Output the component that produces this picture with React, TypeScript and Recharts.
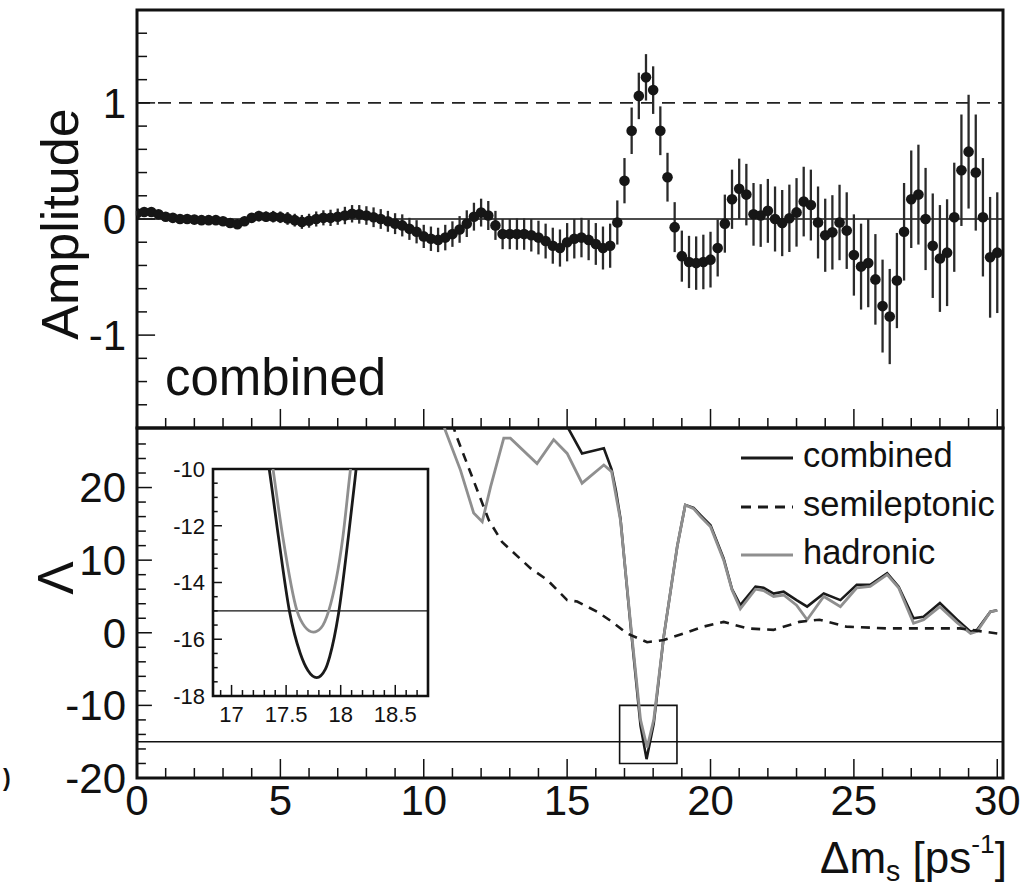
import React from 'react';
import {
  ComposedChart,
  Scatter,
  Line,
  XAxis,
  YAxis,
  ErrorBar,
  ReferenceLine,
  ReferenceArea,
  Legend,
} from 'recharts';

const FONT = '"Liberation Sans", Arial, Helvetica, sans-serif';
const INK = '#111';

// ---------- Top panel: amplitude scan ----------
const ampX = [0, 0.25, 0.5, 0.75, 1, 1.25, 1.5, 1.75, 2, 2.25, 2.5, 2.75, 3, 3.25, 3.5, 3.75, 4, 4.25, 4.5, 4.75, 5, 5.25, 5.5, 5.75, 6, 6.25, 6.5, 6.75, 7, 7.25, 7.5, 7.75, 8, 8.25, 8.5, 8.75, 9, 9.25, 9.5, 9.75, 10, 10.25, 10.5, 10.75, 11, 11.25, 11.5, 11.75, 12, 12.25, 12.5, 12.75, 13, 13.25, 13.5, 13.75, 14, 14.25, 14.5, 14.75, 15, 15.25, 15.5, 15.75, 16, 16.25, 16.5, 16.75, 17, 17.25, 17.5, 17.75, 18, 18.25, 18.5, 18.75, 19, 19.25, 19.5, 19.75, 20, 20.25, 20.5, 20.75, 21, 21.25, 21.5, 21.75, 22, 22.25, 22.5, 22.75, 23, 23.25, 23.5, 23.75, 24, 24.25, 24.5, 24.75, 25, 25.25, 25.5, 25.75, 26, 26.25, 26.5, 26.75, 27, 27.25, 27.5, 27.75, 28, 28.25, 28.5, 28.75, 29, 29.25, 29.5, 29.75, 30];

const ampVal = [
  0.05, 0.06, 0.06, 0.04, 0.02, 0.01, 0.0, 0.0, -0.005, -0.01, -0.01, -0.01, -0.02, -0.035, -0.045, -0.02, 0.01, 0.025, 0.02, 0.02,
  0.015, 0.005, -0.01, -0.025, -0.015, 0.0, 0.01, 0.01, 0.02, 0.03, 0.045, 0.04, 0.03, 0.015, 0.0, -0.02, -0.04, -0.055, -0.085, -0.11,
  -0.15, -0.17, -0.18, -0.16, -0.13, -0.09, -0.04, 0.02, 0.055, 0.03, -0.055, -0.13, -0.13, -0.13, -0.13, -0.14, -0.16, -0.19, -0.23, -0.25,
  -0.2, -0.17, -0.16, -0.18, -0.215, -0.25, -0.23, -0.03, 0.33, 0.76, 1.06, 1.22, 1.11, 0.76, 0.36, -0.07, -0.32, -0.37, -0.38, -0.37,
  -0.35, -0.25, -0.04, 0.17, 0.26, 0.21, 0.04, 0.03, 0.07, 0.0, -0.035, 0.006, 0.057, 0.15, 0.12, -0.03, -0.14, -0.115, -0.03, -0.1,
  -0.31, -0.41, -0.38, -0.52, -0.75, -0.84, -0.53, -0.11, 0.17, 0.21, 0.0, -0.23, -0.34, -0.29, 0.015, 0.42, 0.58, 0.4, 0.015, -0.33, -0.29,
];

const ampErr = [
  0.02, 0.02, 0.02, 0.02, 0.02, 0.025, 0.025, 0.025, 0.03, 0.03, 0.03, 0.03, 0.035, 0.035, 0.035, 0.04, 0.04, 0.045, 0.045, 0.05,
  0.05, 0.055, 0.055, 0.06, 0.06, 0.065, 0.065, 0.07, 0.07, 0.075, 0.075, 0.08, 0.08, 0.085, 0.085, 0.09, 0.09, 0.095, 0.095, 0.1,
  0.1, 0.105, 0.105, 0.11, 0.11, 0.115, 0.115, 0.12, 0.12, 0.125, 0.125, 0.13, 0.13, 0.135, 0.135, 0.14, 0.145, 0.15, 0.155, 0.16,
  0.165, 0.17, 0.17, 0.175, 0.18, 0.185, 0.19, 0.19, 0.195, 0.2, 0.2, 0.2, 0.205, 0.21, 0.21, 0.215, 0.22, 0.225, 0.23, 0.235,
  0.24, 0.245, 0.25, 0.255, 0.26, 0.265, 0.27, 0.27, 0.275, 0.28, 0.285, 0.29, 0.295, 0.3, 0.305, 0.31, 0.315, 0.32, 0.325, 0.33,
  0.35, 0.37, 0.38, 0.39, 0.4, 0.41, 0.41, 0.42, 0.42, 0.43, 0.44, 0.45, 0.46, 0.46, 0.47, 0.48, 0.49, 0.5, 0.51, 0.52, 0.52,
];

// ---------- Bottom panel: likelihood ratio ----------
const combinedX = [14.8, 15.06, 15.52, 16.28, 16.55, 16.7, 16.86, 17.2, 17.56, 17.77, 18.02, 18.37, 18.84, 19.12, 19.41, 19.65, 20.0, 20.46, 20.75, 21.04, 21.57, 21.85, 22.2, 22.55, 23.0, 23.37, 23.95, 24.53, 25.1, 25.57, 26.16, 26.56, 27.08, 27.43, 28.0, 28.6, 29.07, 29.3, 29.76, 30.0];
const combinedL = [31, 28.0, 24.7, 25.4, 22.5, 19.6, 15.7, 1.5, -12.8, -17.4, -12.5, -0.5, 11.9, 17.6, 17.2, 16.2, 14.8, 10.2, 6.0, 3.8, 6.35, 6.2, 5.4, 5.65, 4.5, 3.6, 5.4, 4.5, 6.6, 6.6, 8.2, 6.35, 2.0, 2.2, 4.1, 1.8, 0.15, 0.4, 2.9, 3.1];

const hadronicX = [10.5, 10.75, 11.28, 11.74, 12.04, 12.33, 12.79, 13.02, 13.95, 14.53, 15.0, 15.52, 16.28, 16.55, 16.86, 17.2, 17.56, 17.79, 18.02, 18.37, 18.84, 19.12, 19.41, 19.65, 20.0, 20.46, 20.75, 21.04, 21.57, 21.85, 22.2, 22.55, 23.0, 23.37, 23.95, 24.53, 25.1, 25.57, 26.16, 26.56, 27.08, 27.43, 28.0, 28.6, 29.07, 29.3, 29.76, 30.0];
const hadronicL = [31, 27.9, 22.4, 16.5, 15.3, 20.1, 26.8, 26.8, 23.3, 26.6, 24.7, 20.6, 23.1, 22.2, 15.5, 1.8, -12, -15.8, -12, -0.5, 11.9, 17.6, 17.1, 16.0, 14.6, 10.0, 5.9, 3.3, 6.0, 5.8, 5.0, 5.2, 3.8, 1.8, 5.0, 3.6, 6.2, 6.4, 8.0, 6.2, 1.3, 1.8, 3.6, 1.4, -0.1, 0.2, 2.9, 3.1];

const semiX = [10.85, 11.1, 11.86, 12.27, 12.73, 13.72, 14.3, 15.0, 15.35, 16.05, 16.57, 17.09, 17.79, 18.37, 19.07, 19.76, 20.46, 21.28, 22.2, 23.1, 23.8, 24.73, 26.15, 27.55, 28.7, 30.0];
const semiL = [31, 27.5, 19.7, 15.5, 12.5, 8.9, 7.3, 4.5, 4.3, 2.9, 1.5, -0.1, -1.3, -1.0, -0.1, 0.85, 1.5, 0.6, 0.4, 1.5, 1.8, 0.85, 0.6, 0.6, 0.6, -0.1];

// ---------- Inset: zoom of the minimum ----------
const insetCombX = [17.3, 17.345, 17.43, 17.53, 17.63, 17.7, 17.78, 17.86, 17.9, 17.98, 18.07, 18.13, 18.17];
const insetCombL = [-8.9, -10, -12.4, -15, -16.5, -17.1, -17.35, -17.05, -16.6, -15.1, -12.4, -10.4, -9.0];
const insetHadX = [17.33, 17.38, 17.47, 17.6, 17.67, 17.75, 17.82, 17.89, 18.02, 18.09, 18.13];
const insetHadL = [-8.6, -10, -12.4, -15, -15.55, -15.75, -15.6, -15.0, -12.4, -10, -8.8];

// ---------- Tick values ----------
const xMajorTicks = [0, 5, 10, 15, 20, 25, 30];
const xMinorTicks = [1, 2, 3, 4, 6, 7, 8, 9, 11, 12, 13, 14, 16, 17, 18, 19, 21, 22, 23, 24, 26, 27, 28, 29];
const ampMajorTicks = [-1, 0, 1];
const ampMinorTicks = [-1.6, -1.4, -1.2, -0.8, -0.6, -0.4, -0.2, 0.2, 0.4, 0.6, 0.8, 1.2, 1.4, 1.6];
const lamMajorTicks = [-20, -10, 0, 10, 20];
const lamMinorTicks = [-18, -16, -14, -12, -8, -6, -4, -2, 2, 4, 6, 8, 12, 14, 16, 18, 22, 24, 26];
const insetXMajor = [17, 17.5, 18, 18.5];
const insetXMinor = [16.9, 17.1, 17.2, 17.3, 17.4, 17.6, 17.7, 17.8, 17.9, 18.1, 18.2, 18.3, 18.4, 18.6, 18.7];
const insetYMajor = [-18, -16, -14, -12, -10];
const insetYMinor = [-17.5, -17, -16.5, -15.5, -15, -14.5, -13.5, -13, -12.5, -11.5, -11, -10.5];

const legendItems = [
  { name: 'combined', color: '#1a1a1a', dash: '' },
  { name: 'semileptonic', color: '#1a1a1a', dash: '10 7' },
  { name: 'hadronic', color: '#8f8f8f', dash: '' },
];

const ampData = ampX.map((x, i) => ({ x, a: ampVal[i], e: ampErr[i] }));
const combinedData = combinedX.map((x, i) => ({ x, v: combinedL[i] }));
const hadronicData = hadronicX.map((x, i) => ({ x, v: hadronicL[i] }));
const semiData = semiX.map((x, i) => ({ x, v: semiL[i] }));
const insetCombData = insetCombX.map((x, i) => ({ x, v: insetCombL[i] }));
const insetHadData = insetHadX.map((x, i) => ({ x, v: insetHadL[i] }));

function yTickMarks(values: number[], x0: number, len: number, key: string) {
  return values.map((v) => (
    <ReferenceLine
      key={key + v}
      segment={[{ x: x0, y: v }, { x: x0 + len, y: v }]}
      stroke={INK}
      strokeWidth={1.5}
      ifOverflow="visible"
    />
  ));
}
function xTickMarks(values: number[], y0: number, len: number, key: string) {
  return values.map((v) => (
    <ReferenceLine
      key={key + v}
      segment={[{ x: v, y: y0 }, { x: v, y: y0 + len }]}
      stroke={INK}
      strokeWidth={1.5}
      ifOverflow="visible"
    />
  ));
}

const Dot = (props: any) => {
  const { cx, cy } = props;
  if (cx == null || cy == null) return null;
  return <circle cx={cx} cy={cy} r={5.3} fill="#161616" />;
};

const bigTick = { fontSize: 42, fill: INK, fontFamily: FONT };
const smallTick = { fontSize: 22, fill: INK, fontFamily: FONT };

const renderLegend = () => (
  <div style={{ fontFamily: FONT, fontSize: 34.5, color: INK }}>
    {legendItems.map((it) => (
      <div key={it.name} style={{ display: 'flex', alignItems: 'center', height: 48.5 }}>
        <svg width={54} height={8} style={{ marginRight: 8, display: 'block' }}>
          <line x1={0} y1={4} x2={52} y2={4} stroke={it.color} strokeWidth={3} strokeDasharray={it.dash || undefined} />
        </svg>
        <span style={{ lineHeight: 1, position: 'relative', top: -3 }}>{it.name}</span>
      </div>
    ))}
  </div>
);

function TopPanel() {
  return (
    <ComposedChart width={1021} height={886} margin={{ top: 10, right: 18, bottom: 458, left: 0 }}>
      <XAxis dataKey="x" type="number" domain={[0, 30.2]} hide allowDataOverflow />
      <YAxis
        dataKey="a"
        type="number"
        domain={[-1.8, 1.8]}
        ticks={ampMajorTicks}
        interval={0}
        width={137}
        axisLine={false}
        tickLine={false}
        tickSize={6}
        tickMargin={5}
        allowDataOverflow
        tick={bigTick}
      />
      <ReferenceLine y={1} stroke="#222" strokeWidth={1.6} strokeDasharray="13 8" />
      <ReferenceLine y={0} stroke={INK} strokeWidth={1.4} />
      <Scatter data={ampData} dataKey="a" isAnimationActive={false} shape={Dot}>
        <ErrorBar dataKey="e" direction="y" width={0} stroke="#2a2a2a" strokeWidth={2.3} />
      </Scatter>
      {yTickMarks(ampMinorTicks, 0, 0.35, 'aym')}
      {yTickMarks(ampMajorTicks, 0, 0.63, 'ayM')}
      {xTickMarks(xMinorTicks, -1.8, 0.086, 'axm')}
      {xTickMarks(xMajorTicks.slice(1), -1.8, 0.164, 'axM')}
      <ReferenceArea x1={0} x2={30.2} y1={-1.8} y2={1.8} fill="none" stroke={INK} strokeWidth={3} ifOverflow="visible" />
    </ComposedChart>
  );
}

function BottomPanel() {
  return (
    <ComposedChart width={1021} height={886} margin={{ top: 428, right: 18, bottom: 58, left: 0 }}>
      <XAxis
        dataKey="x"
        type="number"
        domain={[0, 30.2]}
        ticks={xMajorTicks}
        interval={0}
        height={50}
        axisLine={false}
        tickLine={false}
        tickSize={6}
        tickMargin={1}
        allowDataOverflow
        tick={bigTick}
      />
      <YAxis
        type="number"
        domain={[-20, 28.2]}
        ticks={lamMajorTicks}
        interval={0}
        width={137}
        axisLine={false}
        tickLine={false}
        tickSize={6}
        tickMargin={5}
        allowDataOverflow
        tick={bigTick}
      />
      <ReferenceLine y={-15} stroke={INK} strokeWidth={1.5} />
      <ReferenceArea x1={16.83} x2={18.83} y1={-18} y2={-10} fill="none" stroke={INK} strokeWidth={1.6} ifOverflow="visible" />
      <Line data={combinedData} dataKey="v" name="combined" type="linear" stroke="#1a1a1a" strokeWidth={2.6} dot={false} isAnimationActive={false} />
      <Line data={hadronicData} dataKey="v" name="hadronic" type="linear" stroke="#8f8f8f" strokeWidth={2.8} dot={false} isAnimationActive={false} />
      <Line data={semiData} dataKey="v" name="semileptonic" type="linear" stroke="#1a1a1a" strokeWidth={2.6} strokeDasharray="9 7" dot={false} isAnimationActive={false} />
      {yTickMarks(lamMinorTicks, 0, 0.31, 'lym')}
      {yTickMarks(lamMajorTicks.slice(1), 0, 0.52, 'lyM')}
      {xTickMarks(xMinorTicks, -20, 1.38, 'lxm')}
      {xTickMarks(xMajorTicks.slice(1), -20, 2.62, 'lxM')}
      <ReferenceArea x1={0} x2={30.2} y1={-20} y2={28.2} fill="none" stroke={INK} strokeWidth={3} ifOverflow="visible" />
      <Legend
        layout="vertical"
        align="center"
        verticalAlign="middle"
        content={renderLegend}
        wrapperStyle={{ position: 'absolute', left: 741, top: 434, width: 280, height: 150, margin: 0 }}
      />
    </ComposedChart>
  );
}

function InsetPanel() {
  return (
    <ComposedChart width={1021} height={886} margin={{ top: 469, right: 593, bottom: 160, left: 0 }}>
      <XAxis
        dataKey="x"
        type="number"
        domain={[16.83, 18.8]}
        ticks={insetXMajor}
        interval={0}
        height={30}
        axisLine={false}
        tickLine={false}
        tickSize={4}
        tickMargin={6}
        allowDataOverflow
        tick={smallTick}
      />
      <YAxis
        type="number"
        domain={[-18, -10]}
        ticks={insetYMajor}
        interval={0}
        width={213}
        axisLine={false}
        tickLine={false}
        tickSize={4}
        tickMargin={4}
        allowDataOverflow
        tick={smallTick}
      />
      <ReferenceArea x1={16.83} x2={18.8} y1={-18} y2={-10} fill="#fff" fillOpacity={1} stroke="none" ifOverflow="visible" />
      <ReferenceLine y={-15} stroke={INK} strokeWidth={1.4} />
      <Line data={insetCombData} dataKey="v" type="monotone" stroke="#1a1a1a" strokeWidth={2.8} dot={false} isAnimationActive={false} />
      <Line data={insetHadData} dataKey="v" type="monotone" stroke="#8f8f8f" strokeWidth={2.8} dot={false} isAnimationActive={false} />
      {yTickMarks(insetYMinor, 16.83, 0.043, 'iym')}
      {yTickMarks(insetYMajor, 16.83, 0.082, 'iyM')}
      {xTickMarks(insetXMinor, -18, 0.21, 'ixm')}
      {xTickMarks(insetXMajor, -18, 0.39, 'ixM')}
      <ReferenceArea x1={16.83} x2={18.8} y1={-18} y2={-10} fill="none" stroke={INK} strokeWidth={2.6} ifOverflow="visible" />
    </ComposedChart>
  );
}

export default function App() {
  const layer: React.CSSProperties = { position: 'absolute', left: 0, top: 0 };
  return (
    <div style={{ position: 'absolute', left: 0, top: 0, width: 1021, height: 886, background: '#fff', overflow: 'hidden', fontFamily: FONT, color: INK }}>
      <div style={layer}><TopPanel /></div>
      <div style={layer}><BottomPanel /></div>
      <div style={layer}><InsetPanel /></div>

      {/* panel label */}
      <div style={{ position: 'absolute', left: 165, top: 352, fontSize: 51, lineHeight: 1, whiteSpace: 'nowrap' }}>combined</div>

      {/* y titles */}
      <div style={{ position: 'absolute', left: 60 - 160, top: 224 - 30, width: 320, height: 60, lineHeight: '60px', fontSize: 52, textAlign: 'center', transform: 'rotate(-90deg)', whiteSpace: 'nowrap' }}>Amplitude</div>
      <div style={{ position: 'absolute', left: 56 - 40, top: 578 - 30, width: 80, height: 60, lineHeight: '60px', fontSize: 50, textAlign: 'center', transform: 'rotate(-90deg)', whiteSpace: 'nowrap' }}>Λ</div>

      {/* x title */}
      <div style={{ position: 'absolute', left: 600, top: 836, width: 407, fontSize: 44, lineHeight: 1, textAlign: 'right', whiteSpace: 'nowrap' }}>
        Δm<span style={{ fontSize: '0.65em', position: 'relative', top: '0.28em' }}>s</span> [ps<span style={{ fontSize: '0.6em', position: 'relative', top: '-0.75em' }}>-1</span>]
      </div>

      {/* stray glyph of a neighbouring figure at the left edge */}
      <div style={{ position: 'absolute', left: 3, top: 767, fontSize: 23, lineHeight: 1, fontWeight: 'bold' }}>)</div>
    </div>
  );
}
